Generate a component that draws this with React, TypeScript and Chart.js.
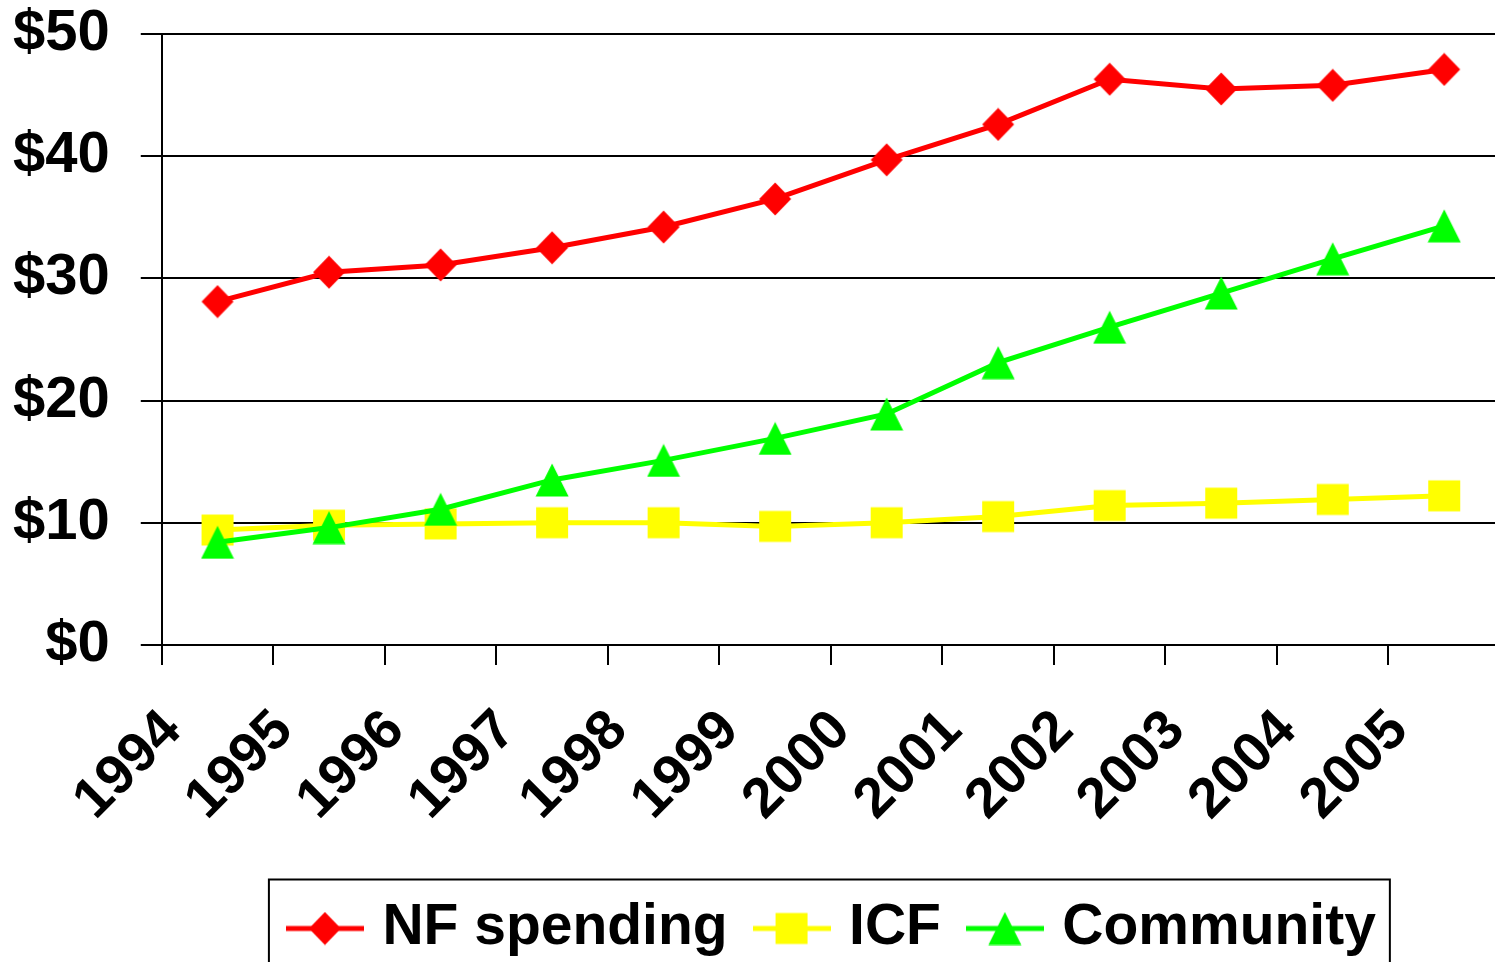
import React, { useEffect, useRef } from 'react';
import { Chart, registerables } from 'chart.js';

Chart.register(...registerables);

const years = ['1994', '1995', '1996', '1997', '1998', '1999', '2000', '2001', '2002', '2003', '2004', '2005'];
const nfSpending = [28.1, 30.5, 31.1, 32.5, 34.2, 36.5, 39.7, 42.6, 46.3, 45.5, 45.8, 47.1];
const icf = [9.4, 9.8, 9.9, 10.0, 10.0, 9.7, 10.0, 10.5, 11.4, 11.6, 11.9, 12.2];
const community = [8.4, 9.6, 11.1, 13.5, 15.1, 16.9, 18.9, 23.1, 26.0, 28.8, 31.6, 34.3];
const seriesLabels = ['NF spending', 'ICF', 'Community'];
const yTickLabels = ['$0', '$10', '$20', '$30', '$40', '$50'];

const RED = '#FF0000';
const YELLOW = '#FFFF00';
const GREEN = '#00FF00';
const FONT = "'Liberation Sans', Arial, sans-serif";
const CANVAS_W = 1521;
const CANVAS_H = 967;

type Kind = 'diamond' | 'square' | 'triangle';

function drawShape(ctx: CanvasRenderingContext2D, kind: Kind, cx: number, cy: number) {
  ctx.beginPath();
  if (kind === 'diamond') {
    const w = 32, h = 33;
    ctx.moveTo(cx, cy - h / 2);
    ctx.lineTo(cx + w / 2, cy);
    ctx.lineTo(cx, cy + h / 2);
    ctx.lineTo(cx - w / 2, cy);
  } else if (kind === 'square') {
    const w = 32, h = 31;
    ctx.rect(cx - w / 2, cy - h / 2, w, h);
  } else {
    const w = 33, h = 33;
    ctx.moveTo(cx, cy - h / 2);
    ctx.lineTo(cx + w / 2, cy + h / 2);
    ctx.lineTo(cx - w / 2, cy + h / 2);
  }
  ctx.closePath();
  ctx.fill();
}

function makeMarker(kind: Kind, color: string): HTMLCanvasElement {
  const c = document.createElement('canvas');
  c.width = 34;
  c.height = 34;
  const ctx = c.getContext('2d')!;
  ctx.fillStyle = color;
  drawShape(ctx, kind, 17, 17);
  return c;
}

function makeLegendIcon(kind: Kind, color: string): HTMLCanvasElement {
  const c = document.createElement('canvas');
  c.width = 78;
  c.height = 34;
  const ctx = c.getContext('2d')!;
  ctx.fillStyle = color;
  ctx.fillRect(0, 17 - 2.5, 78, 5);
  drawShape(ctx, kind, 39, 17);
  return c;
}

export default function App() {
  const ref = useRef<HTMLCanvasElement | null>(null);

  useEffect(() => {
    if (!ref.current) return;
    const kinds: Kind[] = ['diamond', 'square', 'triangle'];
    const colors = [RED, YELLOW, GREEN];
    const markers = kinds.map((k, i) => makeMarker(k, colors[i]));
    const legendIcons = kinds.map((k, i) => makeLegendIcon(k, colors[i]));
    const values = [nfSpending, icf, community];
    const orders = [2, 1, 0];

    const legendFrame = {
      id: 'legendFrame',
      afterLayout(chart: any) {
        const lg = chart.legend;
        if (lg) {
          lg.left += 5;
          lg.right += 5;
        }
      },
      afterDraw(chart: any) {
        const hb = chart.legend && chart.legend.legendHitBoxes;
        if (!hb || !hb.length) return;
        const ctx = chart.ctx;
        const first = hb[0];
        const last = hb[hb.length - 1];
        const midY = first.top + first.height / 2;
        const left = first.left - 27;
        const right = last.left + last.width + 14;
        ctx.save();
        ctx.strokeStyle = '#000';
        ctx.lineWidth = 2;
        ctx.strokeRect(left, midY - 49, right - left, 140);
        ctx.restore();
      },
    };

    const chart = new Chart(ref.current, {
      type: 'line',
      data: {
        labels: years,
        datasets: values.map((v, i) => ({
          label: seriesLabels[i],
          data: v,
          borderColor: colors[i],
          backgroundColor: colors[i],
          borderWidth: 5,
          tension: 0,
          pointStyle: markers[i],
          pointRadius: 16,
          pointHoverRadius: 16,
          order: orders[i],
          clip: false as any,
          fill: false,
        })),
      },
      options: {
        responsive: false,
        animation: false,
        devicePixelRatio: 1,
        layout: { padding: { left: 13, top: 34, right: 0, bottom: 0 } },
        plugins: {
          tooltip: { enabled: false },
          legend: {
            position: 'bottom',
            fullSize: false,
            onClick: () => {},
            labels: {
              usePointStyle: true,
              pointStyleWidth: 58,
              padding: 35,
              color: '#000',
              font: { family: FONT, weight: 'bold', size: 57 },
              generateLabels: () =>
                seriesLabels.map((t, i) => ({
                  text: t,
                  pointStyle: legendIcons[i],
                  fillStyle: colors[i],
                  strokeStyle: colors[i],
                  lineWidth: 0,
                  hidden: false,
                  datasetIndex: i,
                  fontColor: '#000',
                })),
            },
          },
        },
        scales: {
          x: {
            offset: true,
            grid: {
              offset: true,
              drawOnChartArea: false,
              drawTicks: true,
              tickLength: 20,
              color: '#000',
              lineWidth: 2,
            },
            border: { display: true, color: '#000', width: 2 },
            ticks: {
              autoSkip: false,
              maxRotation: 45,
              minRotation: 45,
              labelOffset: -45,
              padding: 33,
              color: '#000',
              font: { family: FONT, weight: 'bold', size: 56 },
            },
            afterFit: (s: any) => {
              s.paddingLeft = 0;
              s.paddingRight = 0;
              s.height -= 1.5;
            },
          },
          y: {
            min: 0,
            max: 50,
            ticks: {
              stepSize: 10,
              padding: 31,
              color: '#000',
              font: { family: FONT, weight: 'bold', size: 58, lineHeight: 1.15 },
              callback: (_v: any, i: number) => yTickLabels[i],
            },
            grid: { color: '#000', lineWidth: 2, tickLength: 21, drawTicks: true },
            border: { display: true, color: '#000', width: 2 },
            afterFit: (s: any) => {
              s.paddingTop = 0;
              s.paddingBottom = 0;
              s.width -= 31;
            },
          },
        },
      },
      plugins: [legendFrame],
    } as any);

    return () => chart.destroy();
  }, []);

  return (
    <div style={{ position: 'fixed', left: 0, top: 0, width: CANVAS_W, height: CANVAS_H, background: '#fff', overflow: 'hidden' }}>
      <canvas ref={ref} width={CANVAS_W} height={CANVAS_H} style={{ display: 'block' }} />
    </div>
  );
}
